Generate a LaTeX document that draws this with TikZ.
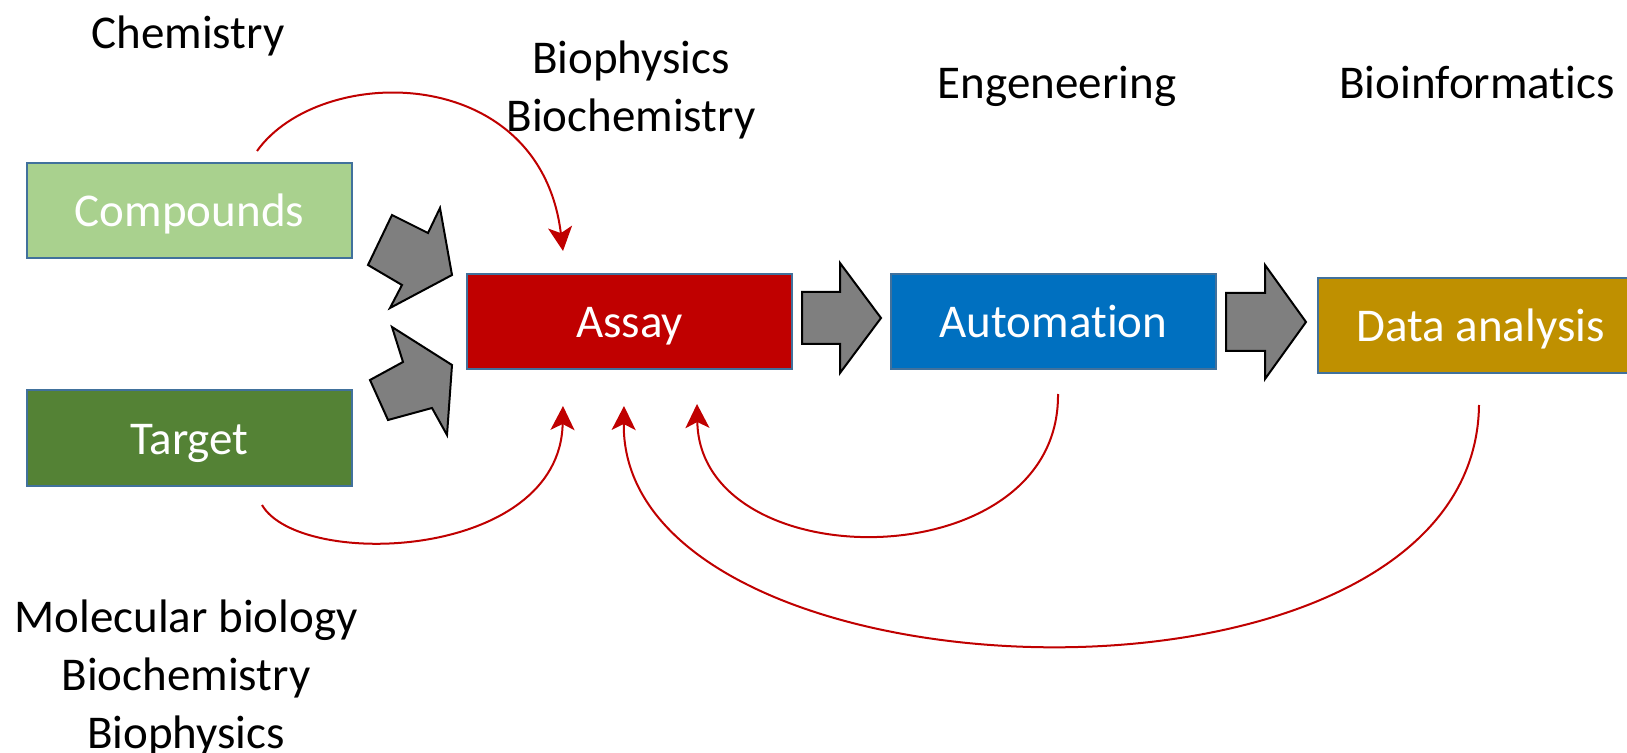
\documentclass[tikz,border=0pt]{standalone}
\usepackage{fontspec}
\setmainfont{Carlito}[Ligatures=NoCommon]
\usetikzlibrary{arrows.meta}
\definecolor{bordblue}{HTML}{41719C}
\definecolor{cgreen}{HTML}{A9D18E}
\definecolor{tgreen}{HTML}{548235}
\definecolor{ared}{HTML}{C00000}
\definecolor{autoblue}{HTML}{0070C0}
\definecolor{dgold}{HTML}{BF9000}
\definecolor{arrgray}{HTML}{7F7F7F}
\tikzset{
  box/.style={draw=bordblue, line width=1pt, minimum width=162.5pt, minimum height=47.5pt,
    inner sep=0pt, text=white, text height=18pt, text depth=2pt,
    font=\fontsize{23.5pt}{29pt}\selectfont},
  lbl/.style={inner sep=0pt, align=center, font=\fontsize{23.5pt}{29pt}\selectfont},
  feed/.style={draw=ared, line width=1pt, -{Stealth[length=12pt,width=12pt,inset=3pt]}},
  blockarr/.style={fill=arrgray, draw=black, line width=1pt, line join=miter}
}
\begin{document}
\begin{tikzpicture}[x=0.5pt,y=-0.5pt]
\clip (0,0) rectangle (1627,753);
\fill[white] (0,0) rectangle (1627,753);

% boxes
\node[box, fill=cgreen] (comp) at (189.5,210.5) {Compounds};
\node[box, fill=tgreen] (targ) at (189.5,438) {Target};
\node[box, fill=ared] (assay) at (629.5,321.5) {Assay};
\node[box, fill=autoblue] (auto) at (1053.5,322) {Automation};
\node[box, fill=dgold] (data) at (1480.5,325.5) {Data analysis};

% labels
\node[lbl] (chem) at (188,36) {Chemistry};
\node[lbl] (bioph) at (631,90) {Biophysics\\Biochemistry};
\node[lbl] (eng) at (1057,86) {Engeneering};
\node[lbl] (binf) at (1477,83) {Bioinformatics};
\node[lbl] (molb) at (186,678) {Molecular biology\\Biochemistry\\Biophysics};

% gray block arrows
\draw[blockarr] (440,208) -- (428,233) -- (392,215) -- (368,265) -- (402,285) -- (390,308) -- (452,275) -- cycle;
\draw[blockarr] (392,327) -- (403,362) -- (370,380) -- (388,420) -- (432,408) -- (447,435) -- (452,365) -- cycle;
\draw[blockarr] (802,292) -- (840,292) -- (840,263) -- (881,318) -- (840,373) -- (840,344) -- (802,344) -- cycle;
\draw[blockarr] (1226,293) -- (1265,293) -- (1265,265) -- (1306,322) -- (1265,379) -- (1265,351) -- (1226,351) -- cycle;

% feedback curves
\coordinate (c1s) at (257,151);
\coordinate (c1e) at (563,251);
\coordinate (c2s) at (262,505);
\coordinate (c2e) at (563,406);
\coordinate (c3s) at (1058,394);
\coordinate (c3e) at (697,404);
\coordinate (c4s) at (1479,405);
\coordinate (c4e) at (624,406);
\draw[feed] (c1s) .. controls (320,63) and (540,62) .. (c1e);
\draw[feed] (c2s) .. controls (300,570) and (560,560) .. (c2e);
\draw[feed] (c3s) .. controls (1060,580) and (700,580) .. (c3e);
\draw[feed] (c4s) .. controls (1475,740) and (620,710) .. (c4e);
\end{tikzpicture}
\end{document}
